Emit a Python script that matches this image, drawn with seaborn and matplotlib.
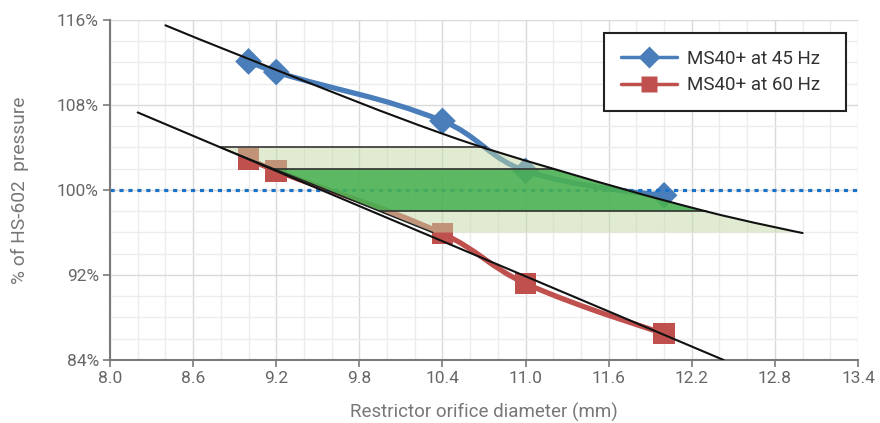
import numpy as np
import pandas as pd
import matplotlib
matplotlib.use("Agg")
import matplotlib.pyplot as plt
from matplotlib.path import Path
from matplotlib.patches import PathPatch, Polygon
from matplotlib.lines import Line2D
from matplotlib.ticker import MultipleLocator, FuncFormatter
import seaborn as sns

# ---- data ----
diam = [9.0, 9.2, 10.4, 11.0, 12.0]
p45 = [112.1, 111.1, 106.5, 101.8, 99.5]
p60 = [102.9, 101.8, 95.9, 91.2, 86.5]
series_names = ["MS40+ at 45 Hz", "MS40+ at 60 Hz"]

upper_x = [8.4, 9.2, 10.4, 11.2, 12.3, 13.0]
upper_y = [115.5, 111.3, 105.3, 102.0, 98.0, 95.95]
lower_x = [8.2, 12.43]
lower_y = [107.3, 84.0]

light_band = [96.0, 104.0]
dark_band = [98.0, 102.0]
band_left_bottom_x = 10.33   # where the band's left edge meets 96 %
ref_level = 100.0

xticks = [8.0, 8.6, 9.2, 9.8, 10.4, 11.0, 11.6, 12.2, 12.8, 13.4]
yticks = [84, 92, 100, 108, 116]

# ---- style ----
sns.set_theme(style="white")
plt.rcParams["font.family"] = ["Roboto", "DejaVu Sans"]

fig = plt.figure(figsize=(8.8, 4.23), dpi=100)
ax = fig.add_axes([110/880, 1-360/423, 748/880, 340/423])
ax.set_xlim(8.0, 13.4)
ax.set_ylim(84, 116)

PX, PY = 748/5.4, 340/32.0


def smooth_patch(xs, ys, color, lw, z, tension=0.4):
    P = np.column_stack([np.asarray(xs)*PX, np.asarray(ys)*PY])
    n = len(P)
    prev_c, next_c = [], []
    for i in range(n):
        if i == 0 or i == n-1:
            prev_c.append(P[i]); next_c.append(P[i]); continue
        p0, p1, p2 = P[i-1], P[i], P[i+1]
        d01 = np.hypot(*(p1-p0)); d12 = np.hypot(*(p2-p1))
        s01 = d01/(d01+d12); s12 = d12/(d01+d12)
        prev_c.append(p1 - tension*s01*(p2-p0))
        next_c.append(p1 + tension*s12*(p2-p0))
    verts = [P[0]]; codes = [Path.MOVETO]
    for i in range(n-1):
        verts += [next_c[i], prev_c[i+1], P[i+1]]
        codes += [Path.CURVE4]*3
    V = np.array(verts)/np.array([PX, PY])
    patch = PathPatch(Path(V, codes), fill=False, edgecolor=color, lw=lw,
                      capstyle="round", joinstyle="round", zorder=z)
    ax.add_patch(patch)


blue = "#4a7ebb"
red = "#c0504d"

df = pd.DataFrame({"d": diam*2, "p": p45+p60,
                   "s": [series_names[0]]*5 + [series_names[1]]*5})

smooth_patch(diam, p45, blue, 3.8, 2)
smooth_patch(diam, p60, red, 3.8, 2)
sns.scatterplot(data=df[df.s == series_names[0]], x="d", y="p", marker="D",
                s=185, color=blue, edgecolor="none", ax=ax, zorder=2.2, legend=False)
sns.scatterplot(data=df[df.s == series_names[1]], x="d", y="p", marker="s",
                s=240, color=red, edgecolor="none", ax=ax, zorder=2.2, legend=False)

ax.axhline(ref_level, color="#1a73c8", lw=2.3, linestyle=(0, (1.3, 1.5)),
           dash_capstyle="butt", zorder=2.5)

# bands between trend lines
ux_r = np.array(upper_x)[::-1]; uy_r = np.array(upper_y)[::-1]
def upper_at(y):
    return np.interp(y, uy_r, ux_r)
def lower_at(y):
    return np.interp(y, lower_y[::-1], lower_x[::-1])

edge_x = [lower_at(light_band[1]), band_left_bottom_x]
edge_y = [light_band[1], light_band[0]]
def left_at(y):
    return np.interp(y, edge_y[::-1], edge_x[::-1])

def band(lo, hi, color, alpha, z, edges):
    inner = [(x, y) for x, y in zip(upper_x, upper_y) if lo < y < hi]
    pts = [(left_at(hi), hi), (upper_at(hi), hi)] + inner + \
          [(upper_at(lo), lo), (left_at(lo), lo)]
    ax.add_patch(Polygon(pts, closed=True, facecolor=color, alpha=alpha,
                         edgecolor="none", zorder=z))
    for yv in edges:
        sns.lineplot(x=[left_at(yv), upper_at(yv)], y=[yv, yv], color="#333333",
                     lw=1.2, ax=ax, zorder=z+0.1)

band(light_band[0], light_band[1], "#c3d9a5", 0.5, 3, [light_band[1]])
band(dark_band[0], dark_band[1], "#3cac48", 0.8, 3.2, dark_band)
sns.lineplot(x=edge_x, y=edge_y, color="#222222", lw=1.1, ax=ax, zorder=3.9)

# trend lines
smooth_patch(upper_x, upper_y, "#111111", 1.5, 4)
sns.lineplot(x=lower_x, y=lower_y, color="#111111", lw=1.5, ax=ax, zorder=4)

# axes styling
ax.xaxis.set_major_locator(plt.FixedLocator(xticks))
ax.xaxis.set_minor_locator(MultipleLocator(0.2))
ax.yaxis.set_major_locator(plt.FixedLocator(yticks))
ax.yaxis.set_minor_locator(MultipleLocator(2))
ax.xaxis.set_major_formatter(FuncFormatter(lambda v, p: f"{v:.1f}"))
ax.yaxis.set_major_formatter(FuncFormatter(lambda v, p: f"{v:.0f}%"))
ax.grid(which="major", color="#d9d9d9", lw=1.0, zorder=0)
ax.grid(which="minor", color="#ececec", lw=1.0, zorder=0)
ax.set_axisbelow(True)
for s in ["top", "right"]:
    ax.spines[s].set_visible(False)
for s in ["left", "bottom"]:
    ax.spines[s].set_color("#7a7a7a"); ax.spines[s].set_linewidth(1.5)
ax.tick_params(which="major", direction="out", length=5, width=1.2, color="#7a7a7a",
               labelsize=12.5, labelcolor="#666666", left=True, bottom=True, pad=3)
ax.tick_params(which="minor", length=0)
ax.set_xlabel("Restrictor orifice diameter (mm)", fontsize=13.5, color="#777777", labelpad=12)
ax.set_ylabel("% of HS-602  pressure", fontsize=13.8, color="#777777", labelpad=20)

handles = [Line2D([], [], color=blue, lw=2.5, marker="D", ms=11, markeredgecolor="none"),
           Line2D([], [], color=red, lw=2.5, marker="s", ms=11.5, markeredgecolor="none")]
leg = ax.legend(handles, series_names, loc="upper left",
                bbox_to_anchor=((604-110)/748, 0.962, 242/748, 0.0), mode="expand",
                borderaxespad=0, fontsize=13.5, frameon=True, fancybox=False,
                handlelength=3.0, handletextpad=0.5, borderpad=0.9, labelspacing=0.45)
leg.get_frame().set_edgecolor("#222222")
leg.get_frame().set_linewidth(1.5)
leg.get_frame().set_alpha(1)
leg.set_zorder(10)
for t in leg.get_texts():
    t.set_color("#333333")

fig.savefig("out.png", dpi=100)
